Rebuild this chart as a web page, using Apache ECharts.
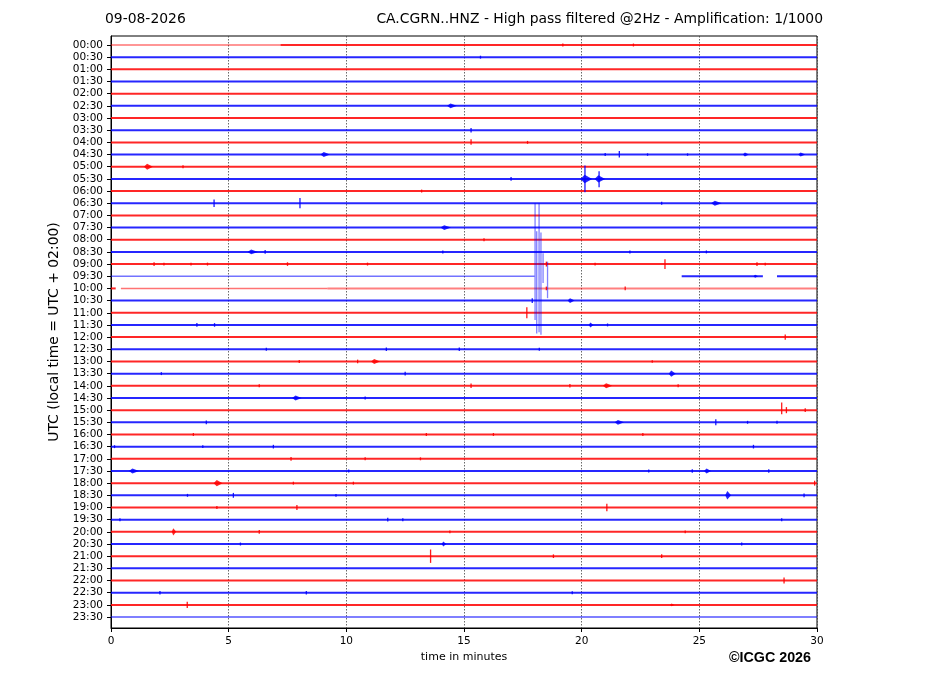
<!DOCTYPE html>
<html><head><meta charset="utf-8">
<script src="https://cdn.jsdelivr.net/npm/echarts@6/dist/echarts.min.js"></script>
<style>html,body{margin:0;padding:0;background:#fff}#c{width:927px;height:696px}</style>
</head><body><div id="c"></div>
<script>
// ---------- data ----------
const rowLabels = ['00:00','00:30','01:00','01:30','02:00','02:30','03:00','03:30','04:00','04:30',
  '05:00','05:30','06:00','06:30','07:00','07:30','08:00','08:30','09:00','09:30',
  '10:00','10:30','11:00','11:30','12:00','12:30','13:00','13:30','14:00','14:30',
  '15:00','15:30','16:00','16:30','17:00','17:30','18:00','18:30','19:00','19:30',
  '20:00','20:30','21:00','21:30','22:00','22:30','23:00','23:30'];
const xTickValues = [0, 5, 10, 15, 20, 25, 30];
const minutesSpan = [0, 30];

// rows that are not drawn as one plain full-length trace
const partialRows = [0, 19, 20, 47];
// [row, startMinute, endMinute]
const normalSegments = [[0, 7.2, 30], [19, 24.25, 27.7], [19, 28.3, 30], [20, 0, 0.2]];
const fadedSegments = [[20, 9.2, 30], [47, 0, 30]];
const lightSegments = [[0, 0, 7.2], [19, 0, 18.0], [20, 0.42, 9.2]];

// spikes: [row, minute, up, down] (amplitudes in trace-spacing units)
const spikes = [
  [0,19.2,.12,.12],[0,22.2,.12,.12],[1,15.7,.12,.12],[7,15.3,.18,.18],
  [8,15.3,.25,.2],[8,17.7,.12,.12],
  [9,21.6,.3,.25],[9,21.0,.12,.12],[9,22.8,.1,.1],[9,24.5,.1,.1],
  [10,3.06,.12,.12],
  [11,20.14,1.1,1.1],[11,20.74,.62,.69],[11,17.0,.15,.15],
  [12,13.2,.12,.12],
  [13,4.38,.3,.3],[13,8.03,.42,.42],[13,23.4,.12,.12],
  [16,15.85,.12,.12],
  [17,6.55,.15,.15],[17,14.1,.12,.12],[17,22.05,.12,.12],[17,25.3,.12,.12],
  [18,1.83,.15,.15],[18,2.25,.12,.12],[18,3.4,.12,.12],[18,4.1,.12,.12],[18,7.5,.15,.15],
  [18,10.9,.12,.12],[18,18.5,.2,.2],[18,20.57,.12,.12],[18,23.54,.4,.4],[18,27.45,.15,.15],[18,27.8,.12,.12],
  [20,21.85,.15,.15],[20,18.5,.15,.15],
  [21,17.9,.2,.2],
  [22,17.67,.45,.45],
  [23,3.65,.15,.15],[23,4.4,.15,.15],[23,21.1,.12,.12],
  [24,28.65,.22,.22],
  [25,6.6,.12,.12],[25,11.7,.15,.15],[25,14.8,.15,.15],[25,18.2,.12,.12],
  [26,10.48,.15,.15],[26,8.0,.12,.12],[26,23.0,.1,.1],
  [27,2.14,.12,.12],[27,12.5,.15,.15],
  [28,15.3,.18,.18],[28,19.5,.15,.15],[28,24.1,.12,.12],[28,6.3,.12,.12],
  [29,10.8,.12,.12],
  [30,28.5,.63,.33],[30,28.7,.25,.25],[30,29.5,.15,.15],
  [31,25.7,.25,.25],[31,4.05,.15,.15],[31,27.05,.12,.12],[31,28.3,.12,.12],
  [32,3.5,.12,.12],[32,13.4,.12,.12],[32,16.25,.12,.12],[32,22.6,.12,.12],
  [33,3.9,.12,.12],[33,6.9,.15,.15],[33,27.3,.15,.15],[33,0.15,.12,.12],
  [34,7.65,.15,.15],[34,10.8,.12,.12],[34,13.15,.12,.12],
  [35,10.1,.12,.12],[35,22.85,.12,.12],[35,24.7,.15,.15],[35,27.95,.15,.15],
  [36,7.75,.12,.12],[36,10.3,.12,.12],[36,29.9,.2,.2],
  [37,3.25,.12,.12],[37,5.2,.2,.2],[37,9.56,.12,.12],[37,29.45,.15,.15],
  [38,4.5,.12,.12],[38,7.9,.2,.2],[38,21.07,.3,.3],
  [39,0.38,.12,.12],[39,11.76,.15,.15],[39,12.4,.12,.12],[39,28.5,.12,.12],
  [40,6.3,.15,.15],[40,14.4,.12,.12],[40,24.4,.12,.12],
  [41,5.5,.12,.12],[41,26.8,.12,.12],
  [42,13.58,.55,.55],[42,18.8,.15,.15],[42,23.4,.15,.15],
  [44,28.6,.25,.25],
  [45,2.08,.15,.15],[45,8.3,.15,.15],[45,19.6,.12,.12],
  [46,3.24,.25,.25]
];

// bursts: [row, startMinute, endMinute, halfHeight]
const bursts = [
  [5,14.28,14.7,.2],
  [9,8.9,9.3,.2],[9,26.85,27.1,.17],[9,29.2,29.5,.17],
  [10,1.4,1.78,.25],
  [11,19.95,20.45,.35],[11,20.55,21.0,.3],
  [13,25.5,25.95,.2],
  [15,14.0,14.45,.2],
  [17,5.8,6.25,.2],
  [19,27.3,27.5,.12],
  [21,19.4,19.7,.2],
  [23,20.3,20.5,.2],
  [26,11.05,11.43,.2],
  [27,23.7,24.0,.25],
  [28,20.9,21.3,.2],
  [29,7.7,8.1,.2],
  [31,21.4,21.8,.2],
  [35,0.76,1.19,.2],[35,25.2,25.5,.2],
  [36,4.36,4.74,.25],
  [37,26.1,26.35,.35],
  [40,2.58,2.77,.3],
  [41,14.05,14.25,.2],
  [46,23.75,23.95,.12]
];

// large event on the 09:30 trace: [minute, up, down]
const bigEventRow = 19;
const bigEvent = [[18.02,6.0,3.6],[18.09,3.7,4.7],[18.19,6.0,4.6],[18.27,3.6,4.8],[18.36,1.9,0.55],[18.55,1.2,1.8]];

// ---------- chart ----------
const RED = '#ff0000', BLUE = '#0000ff';
const colorOf = r => (r % 2 === 0 ? RED : BLUE);

const series = [];
function addSeg(seg, width, opacity) {
  const [r, a, b] = seg;
  series.push({
    type: 'line', data: [[a, r], [b, r]], symbol: 'none', silent: true,
    animation: false, z: 2,
    lineStyle: { color: colorOf(r), width: width, opacity: opacity }
  });
}
rowLabels.forEach((_, r) => {
  if (!partialRows.includes(r)) addSeg([r, minutesSpan[0], minutesSpan[1]], 2, 0.85);
});
normalSegments.forEach(s => addSeg(s, 2, 0.85));
fadedSegments.forEach(s => addSeg(s, 2, 0.5));
lightSegments.forEach(s => addSeg(s, 1.4, 0.55));

series.push({
  type: 'custom', silent: true, animation: false, z: 3,
  data: spikes, encode: { x: 1, y: 0 },
  renderItem(params, api) {
    const r = api.value(0), t = api.value(1), up = api.value(2), dn = api.value(3);
    const p1 = api.coord([t, r - up]), p2 = api.coord([t, r + dn]);
    return { type: 'line', shape: { x1: p1[0], y1: p1[1], x2: p2[0], y2: p2[1] },
      style: { stroke: colorOf(r), lineWidth: 1.3, opacity: 0.9 } };
  }
});
series.push({
  type: 'custom', silent: true, animation: false, z: 3,
  data: bursts, encode: { x: 1, y: 0 },
  renderItem(params, api) {
    const r = api.value(0), a = api.value(1), b = api.value(2), h = api.value(3);
    const m = a + (b - a) * 0.35;
    const pts = [api.coord([a, r]), api.coord([m, r - h]), api.coord([b, r]), api.coord([m, r + h])];
    return { type: 'polygon', shape: { points: pts },
      style: { fill: colorOf(r), opacity: 0.85 } };
  }
});
series.push({
  type: 'custom', silent: true, animation: false, z: 3,
  data: bigEvent, encode: { x: 0 },
  renderItem(params, api) {
    const t = api.value(0), up = api.value(1), dn = api.value(2);
    const p1 = api.coord([t, bigEventRow - up]), p2 = api.coord([t, bigEventRow + dn]);
    return { type: 'line', shape: { x1: p1[0], y1: p1[1], x2: p2[0], y2: p2[1] },
      style: { stroke: BLUE, lineWidth: 1.3, opacity: 0.5 } };
  }
});

const rowIdx = rowLabels.map((_, i) => i);
const FONT = 'DejaVu Sans';
const chart = echarts.init(document.getElementById('c'), null, { renderer: 'canvas' });
chart.setOption({
  backgroundColor: '#fff',
  animation: false,
  grid: { left: 111, right: 110, top: 36, bottom: 68, show: true, borderColor: '#000', borderWidth: 1, backgroundColor: 'transparent' },
  xAxis: {
    type: 'value', min: minutesSpan[0], max: minutesSpan[1], interval: 5,
    name: 'time in minutes', nameLocation: 'middle', nameGap: 23,
    nameTextStyle: { fontFamily: FONT, fontSize: 11, color: '#000' },
    axisLine: { onZero: false, lineStyle: { color: '#000', width: 1 } },
    axisTick: { length: 4, lineStyle: { color: '#000' } },
    axisLabel: { fontFamily: FONT, fontSize: 10.5, color: '#000', margin: 8 },
    splitLine: { show: true, lineStyle: { type: [1.5, 1.5], color: '#444', width: 0.8 } }
  },
  yAxis: {
    type: 'value', inverse: true, min: -0.74, max: 47.9,
    name: 'UTC (local time = UTC + 02:00)', nameLocation: 'middle', nameGap: 47, nameRotate: 90,
    nameTextStyle: { fontFamily: FONT, fontSize: 13.9, color: '#000' },
    axisLine: { show: true, onZero: false, lineStyle: { color: '#000', width: 1 } },
    axisTick: { show: true, length: 4, customValues: rowIdx, lineStyle: { color: '#000' } },
    axisLabel: { fontFamily: FONT, fontSize: 10.5, color: '#000', margin: 8, customValues: rowIdx,
      formatter: v => rowLabels[Math.round(v)] || '' },
    splitLine: { show: false }
  },
  graphic: [
    { type: 'text', left: 105, top: 12, style: { text: '09-08-2026', font: '13.9px "DejaVu Sans"', fill: '#000' } },
    { type: 'text', right: 104, top: 12, style: { text: 'CA.CGRN..HNZ - High pass filtered @2Hz - Amplification: 1/1000', font: '13.9px "DejaVu Sans"', fill: '#000' } },
    { type: 'text', right: 116, top: 651, style: { text: '©ICGC 2026', font: 'bold 14.3px "Liberation Sans"', fill: '#000' } }
  ],
  series: series
});
</script></body></html>
